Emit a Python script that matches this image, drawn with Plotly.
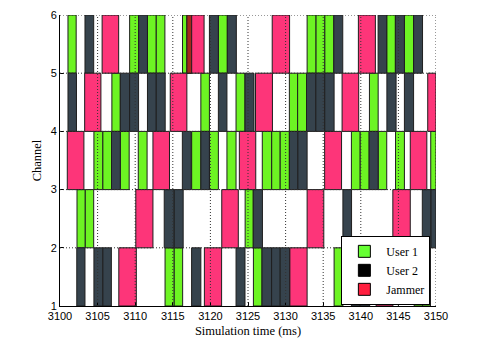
import plotly.graph_objects as go

# channel occupancy: (channel, start ms, end ms)
u1_ch = [5, 5, 5, 5, 5, 5, 5, 5, 5, 5, 5,
         4, 4, 4, 4, 4, 4,
         3, 3, 3, 3, 3, 3, 3, 3, 3, 3, 3, 3, 3, 3, 3,
         2, 2, 2,
         1, 1, 1, 1, 1, 1]
u1_start = [3101.06, 3109.26, 3111.63, 3112.80, 3116.29, 3121.06, 3132.86, 3134.05, 3135.22, 3143.45, 3145.80,
            3106.90, 3118.73, 3123.41, 3130.50, 3131.60, 3141.15,
            3104.51, 3105.70, 3108.02, 3110.41, 3117.51, 3119.87, 3122.20, 3126.90, 3128.15, 3129.28,
            3138.75, 3139.92, 3142.31, 3144.62, 3149.30,
            3102.26, 3103.36, 3124.62,
            3113.97, 3115.19, 3125.72, 3136.45, 3147.10, 3148.22]
u1_end = [3102.15, 3110.45, 3112.80, 3113.95, 3117.51, 3122.25, 3134.05, 3135.22, 3136.41, 3144.60, 3147.02,
          3108.02, 3119.87, 3124.60, 3131.60, 3132.78, 3142.31,
          3105.70, 3106.85, 3109.20, 3111.58, 3118.73, 3121.06, 3123.41, 3128.15, 3129.28, 3130.50,
          3139.92, 3141.11, 3143.45, 3145.80, 3150.00,
          3103.36, 3104.48, 3125.70,
          3115.19, 3116.31, 3126.86, 3137.62, 3148.22, 3149.27]

u2_ch = [5, 5, 5, 5, 5, 5, 5, 5,
         4, 4, 4, 4, 4, 4, 4, 4, 4, 4, 4, 4,
         3, 3, 3, 3, 3, 3,
         2, 2, 2, 2, 2, 2,
         1, 1, 1, 1, 1, 1, 1, 1, 1, 1]
u2_start = [3103.32, 3110.45, 3119.87, 3122.25, 3136.41, 3142.30, 3144.60, 3147.02,
            3101.06, 3108.02, 3109.26, 3111.63, 3112.80, 3121.06, 3124.60, 3132.78, 3134.02, 3135.21, 3143.47, 3145.80,
            3106.85, 3116.27, 3118.73, 3130.50, 3131.63, 3141.11,
            3113.86, 3115.19, 3125.70, 3137.62, 3148.18, 3149.34,
            3102.23, 3104.51, 3105.70, 3117.50, 3123.41, 3126.86, 3128.14, 3129.28, 3138.75, 3139.92]
u2_end = [3104.48, 3111.63, 3121.06, 3123.45, 3137.60, 3143.45, 3145.80, 3148.21,
          3102.19, 3109.26, 3110.45, 3112.80, 3113.99, 3122.20, 3125.80, 3134.02, 3135.21, 3136.45, 3144.69, 3147.02,
          3108.02, 3117.45, 3119.87, 3131.63, 3132.86, 3142.31,
          3115.19, 3116.38, 3126.92, 3138.77, 3149.34, 3150.00,
          3103.32, 3105.70, 3106.83, 3118.73, 3124.60, 3128.14, 3129.28, 3130.53, 3139.85, 3141.18]

jam_ch = [3, 4, 5, 1, 2, 3, 4, 5, 1, 2, 3, 4, 5, 1, 2, 3, 4, 5, 1, 2, 3, 4]
jam_start = [3100.97, 3103.28, 3105.60, 3107.82, 3110.08, 3112.36, 3114.66, 3116.87, 3119.20, 3121.51, 3123.85,
             3126.00, 3128.22, 3130.57, 3132.86, 3135.19, 3137.51, 3139.68, 3142.04, 3144.26, 3146.58, 3148.90]
jam_end = [3103.18, 3105.44, 3107.80, 3110.15, 3112.36, 3114.56, 3116.87, 3119.16, 3121.49, 3123.71, 3126.03,
           3128.25, 3130.53, 3132.86, 3135.08, 3137.44, 3139.72, 3141.94, 3144.27, 3146.58, 3148.78, 3150.00]

# user 1 / jammer collision
hit_ch = [5]
hit_start = [3116.87]
hit_end = [3117.51]

x_ticks = list(range(3100, 3151, 5))
y_ticks = [1, 2, 3, 4, 5, 6]

SERIF = "Liberation Serif, Times New Roman, serif"
EDGE = dict(color="#1e1e1e", width=1)
GRID = dict(color="#333", width=1, dash="1px,2px")


def bars(ch, start, end, color):
    return go.Bar(
        y=[c + 0.5 for c in ch], base=start,
        x=[e - s for s, e in zip(start, end)],
        orientation="h", width=1, showlegend=False, hoverinfo="skip",
        marker=dict(color=color, line=EDGE),
    )


fig = go.Figure()
fig.add_trace(bars(u1_ch, u1_start, u1_end, "#6DF423"))
fig.add_trace(bars(u2_ch, u2_start, u2_end, "#36434D"))
fig.add_trace(bars(jam_ch, jam_start, jam_end, "#FD3579"))
fig.add_trace(bars(hit_ch, hit_start, hit_end, "#A3281C"))

# legend entries (MATLAB legend shows the unshaded colours)
for name, col in [("User 1", "#66FF33"), ("User 2", "#000000"), ("Jammer", "#FF1F3F")]:
    fig.add_trace(go.Bar(x=[None], y=[None], name=name, orientation="h",
                         marker=dict(color=col, line=dict(color="#000", width=1))))

# dotted grid drawn over the patches
for xv in x_ticks[1:]:
    fig.add_shape(type="line", xref="x", yref="y", x0=xv, x1=xv, y0=1, y1=6,
                  line=GRID, layer="above")
for yv in y_ticks[1:]:
    fig.add_shape(type="line", xref="x", yref="y", x0=3100, x1=3150, y0=yv, y1=yv,
                  line=GRID, layer="above")

# page body has an 8px margin, so the figure is sized to the remaining window
fig.update_layout(
    width=477, height=335, template="none", barmode="overlay",
    paper_bgcolor="white", plot_bgcolor="white",
    margin=dict(l=51.5, r=48.5, t=7, b=37),
    xaxis=dict(range=[3100, 3150], tickvals=x_ticks, showgrid=False, zeroline=False,
               showline=True, linecolor="#000", linewidth=1, ticks="inside", ticklen=4,
               tickcolor="#000", tickfont=dict(family="Liberation Sans, Arial", size=11, color="#000"),
               title=dict(text="Simulation time (ms)", font=dict(family=SERIF, size=12.5, color="#000"),
                          standoff=5)),
    yaxis=dict(range=[1, 6], tickvals=y_ticks, showgrid=False, zeroline=False,
               showline=True, linecolor="#000", linewidth=1, ticks="inside", ticklen=4,
               tickcolor="#000", tickfont=dict(family="Liberation Sans, Arial", size=11, color="#000"),
               title=dict(text="Channel", font=dict(family=SERIF, size=12.5, color="#000"),
                          standoff=6)),
    legend=dict(x=0.985, y=0.004, xanchor="right", yanchor="bottom",
                bgcolor="white", bordercolor="#000", borderwidth=1, itemwidth=34,
                font=dict(family=SERIF, size=12, color="#000"), traceorder="normal",
                tracegroupgap=0),
)

fig.write_html("out.html")
